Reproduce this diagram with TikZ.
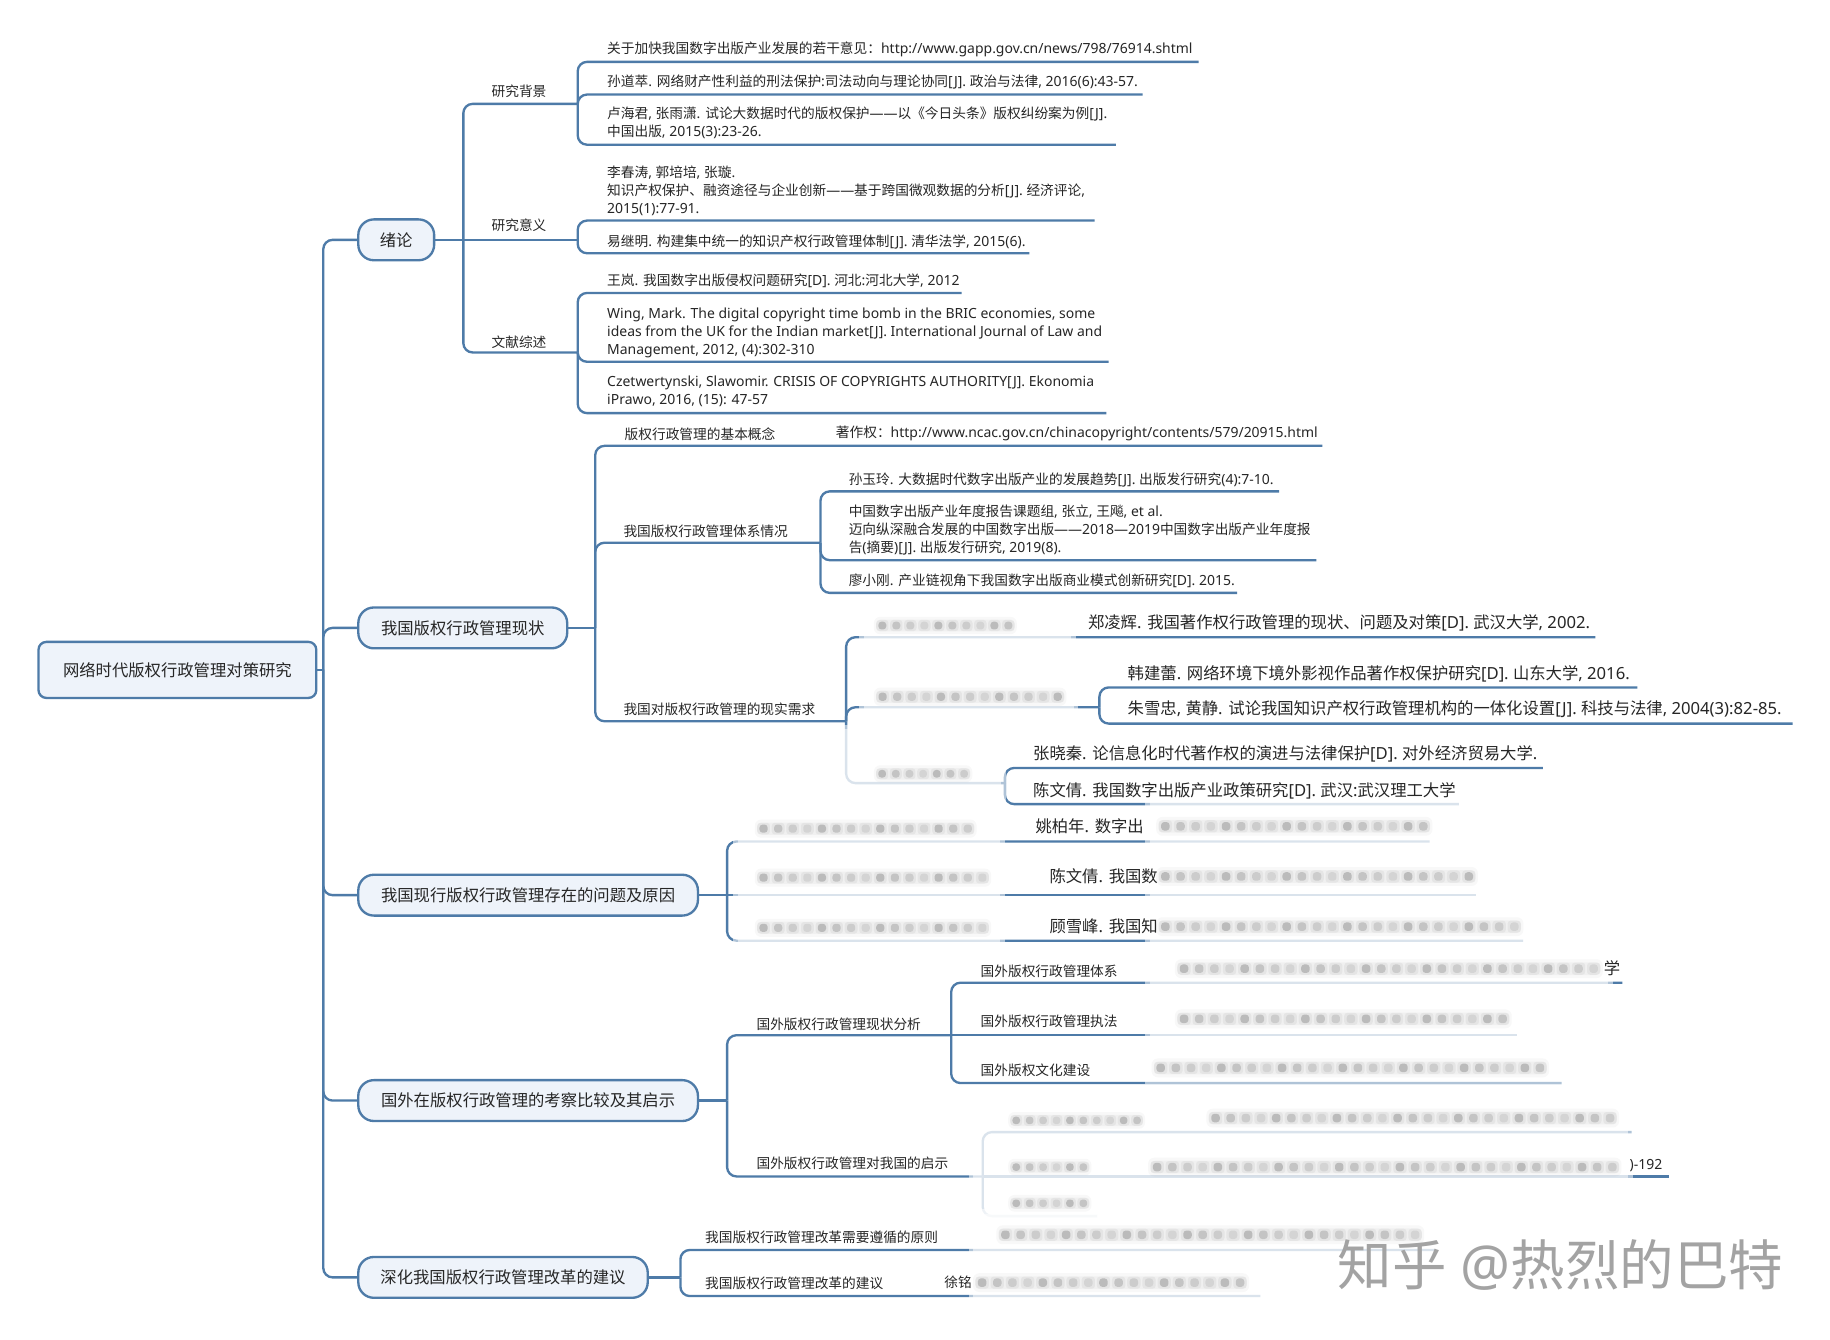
\documentclass[tikz,border=0pt]{standalone}
\usepackage{fontspec}
\setmainfont{Noto Sans}[Scale=1.02]
\newfontfamily\cjkf{Noto Sans CJK SC}
\newfontfamily\latf{Noto Sans}[Scale=1.02]
\XeTeXinterchartokenstate=1
\newXeTeXintercharclass\cjkcls
\newcount\cjkcnt
\cjkcnt="2E80
\loop\ifnum\cjkcnt<"A000 \XeTeXcharclass\cjkcnt=\cjkcls \advance\cjkcnt by 1 \repeat
\cjkcnt="FF00
\loop\ifnum\cjkcnt<"FFF0 \XeTeXcharclass\cjkcnt=\cjkcls \advance\cjkcnt by 1 \repeat
\XeTeXinterchartoks 0 \cjkcls={\cjkf}
\XeTeXinterchartoks 4095 \cjkcls={\cjkf}
\XeTeXinterchartoks \cjkcls 0={\latf}
\XeTeXinterchartoks \cjkcls 4095={\latf}
\definecolor{lc}{HTML}{4E7BA8}
\definecolor{nf}{HTML}{EEF3FA}
\definecolor{tc}{HTML}{262626}
\pgfdeclarelayer{bg}
\pgfdeclarelayer{fade}
\pgfsetlayers{bg,fade,main}
\tikzset{
  conn/.style={draw=lc, line width=1.5pt, rounded corners=6pt},
  mainbox/.style={draw=lc, line width=1.5pt, fill=nf, rounded corners=10pt, inner sep=0pt,
    minimum height=26.25pt, font=\fontsize{10.5}{12}\selectfont, text=tc},
  rootbox/.style={draw=lc, line width=1.5pt, fill=nf, rounded corners=5pt, inner sep=0pt,
    font=\fontsize{10.5}{12}\selectfont, text=tc},
  lbl/.style={anchor=west, inner sep=0pt, font=\fontsize{8.8}{10}\selectfont, text=tc},
  ref/.style={anchor=west, inner sep=0pt, align=left, font=\fontsize{8.8}{11.6}\selectfont, text=tc},
  refb/.style={anchor=west, inner sep=0pt, align=left, font=\fontsize{10.5}{12}\selectfont, text=tc},
  fadebox/.style={fill=white, opacity=.55},
}
\newcommand\smudge[4]{%
  \fill[black!45,opacity=.06,rounded corners=4pt] ({#1-0.1*#4},{#3-0.62*#4}) rectangle ({#1+(#2+1.1)*#4},{#3+0.62*#4});
  \fill[black!50,opacity=.06,rounded corners=3pt] ({#1+0.05*#4},{#3-0.42*#4}) rectangle ({#1+(#2+0.95)*#4},{#3+0.42*#4});
  \foreach \k in {0,...,#2}{%
    \pgfmathsetmacro\smop{0.10+0.05*mod(\k*7+3,4)}%
    \fill[black!60,opacity=.08,rounded corners=2pt] ({#1+\k*#4+0.06*#4},{#3-0.4*#4}) rectangle ({#1+(\k+1)*#4-0.06*#4},{#3+0.4*#4});
    \fill[black!75,opacity=\smop,rounded corners=2pt] ({#1+\k*#4+0.22*#4},{#3-0.28*#4}) rectangle ({#1+(\k+1)*#4-0.22*#4},{#3+0.28*#4});
  }}
\newcommand\fadeout[4]{%
  \fill[fadebox] (#1-4,#2-4) rectangle (#3+4,#4+4);
  \fill[fadebox] (#1,#2) rectangle (#3,#4);}
\begin{document}
\begin{tikzpicture}[x=0.75pt,y=-0.75pt]
\begin{pgfonlayer}{bg}
\fill[white] (0,0) rectangle (1568,1148);
\end{pgfonlayer}
\useasboundingbox (0,0) rectangle (1568,1148);

% ---------- main nodes ----------
\node[rootbox, minimum width=178.5pt, minimum height=36pt] (root) at (152,574) {网络时代版权行政管理对策研究};
\node[mainbox, minimum width=48.75pt] (n1) at (339.5,205.5) {绪论};
\node[mainbox, minimum width=134.25pt] (n2) at (396.5,538) {我国版权行政管理现状};
\node[mainbox, minimum width=218.25pt] (n3) at (452.5,767) {我国现行版权行政管理存在的问题及原因};
\node[mainbox, minimum width=218.25pt] (n4) at (452.5,943) {国外在版权行政管理的考察比较及其启示};
\node[mainbox, minimum width=186pt] (n5) at (431,1094.5) {深化我国版权行政管理改革的建议};

% ---------- junctions ----------
\coordinate (T) at (277,574);
\coordinate (J1) at (397,205.5);
\coordinate (K11) at (495,89);
\coordinate (K12) at (495,205.5);
\coordinate (K13) at (495,302);
\coordinate (J2) at (510,538);
\coordinate (K22) at (703,465);
\coordinate (K23) at (725,618);
\coordinate (K232) at (942,606);
\coordinate (K233) at (861,671);
\coordinate (J3) at (623,767);
\coordinate (J4) at (623,943);
\coordinate (K41) at (815,887);
\coordinate (K42) at (842,1008);
\coordinate (J5) at (583,1094.5);

% ---------- connectors ----------
\begin{pgfonlayer}{bg}
\draw[conn] (root.east) -- (T);
\foreach \n in {n1,n2,n3,n4,n5} \draw[conn] (T) |- (\n.west);
% 绪论
\draw[conn] (n1.east) -- (J1) -- (K12);
\draw[conn] (J1) |- (K11);
\draw[conn] (J1) |- (K13);
\draw[conn] (K11) |- (1027,53) coordinate (e111);
\draw[conn] (K11) |- (979,81) coordinate (e112);
\draw[conn] (K11) |- (956,124) coordinate (e113);
\draw[conn] (K12) |- (938,189) coordinate (e121);
\draw[conn] (K12) |- (882,217) coordinate (e122);
\draw[conn] (K13) |- (824,251) coordinate (e131);
\draw[conn] (K13) |- (950,310) coordinate (e132);
\draw[conn] (K13) |- (948,354) coordinate (e133);
% 现状
\draw[conn] (n2.east) -- (J2);
\draw[conn] (J2) |- (1133,382) coordinate (e21);
\draw[conn] (J2) |- (K22);
\draw[conn] (K22) |- (1096,421) coordinate (e221);
\draw[conn] (K22) |- (1128,480) coordinate (e222);
\draw[conn] (K22) |- (1060,508) coordinate (e223);
\draw[conn] (J2) |- (K23);
\draw[conn] (K23) |- (1367,546) coordinate (e231);
\draw[conn] (K23) |- (K232);
\draw[conn] (K232) |- (1403,589) coordinate (e232);
\draw[conn] (K232) |- (1536,620) coordinate (e233);
\draw[conn] (K23) |- (K233);
\draw[conn] (K233) |- (1322,658) coordinate (e234);
\draw[conn] (K233) |- (1250,689) coordinate (e235);
% 问题
\draw[conn] (n3.east) -- (J3);
\draw[conn] (J3) |- (1225,721) coordinate (e31);
\draw[conn] (J3) -- (1265,767) coordinate (e32);
\draw[conn] (J3) |- (1305,806) coordinate (e33);
% 国外
\draw[conn] (n4.east) -- (J4);
\draw[conn] (J4) |- (K41);
\draw[conn] (K41) |- (1390,842) coordinate (e411);
\draw[conn] (K41) -- (1300,887) coordinate (e412);
\draw[conn] (K41) |- (1338,928) coordinate (e413);
\draw[conn] (J4) |- (K42);
\draw[conn] (K42) |- (1398,970) coordinate (e421);
\draw[conn] (K42) -- (1430,1008) coordinate (e422);
\draw[conn] (K42) |- (940,1042) coordinate (e423);
% 深化
\draw[conn] (n5.east) -- (J5);
\draw[conn] (J5) |- (1230,1071) coordinate (e51);
\draw[conn] (J5) |- (1080,1110.5) coordinate (e52);
\end{pgfonlayer}

% ---------- blurred areas ----------
\begin{pgfonlayer}{fade}
\fadeout{740}{527}{918}{556}
\fadeout{740}{585}{920}{617}
\fadeout{716}{625}{858}{692}
\fadeout{632}{697}{857}{815}
\fadeout{985}{682}{1310}{815}
\fadeout{985}{815}{1378}{925}
\fadeout{834}{940}{1395}{1050}
\fadeout{834}{1040}{1232}{1120}
\end{pgfonlayer}

% ---------- texts: 绪论 ----------
\node[lbl] (l11) at (421,78) {研究背景};
\node[lbl] (l12) at (421,193) {研究意义};
\node[lbl] (l13) at (421,293) {文献综述};
\node[ref] (r111) at (520,42) {关于加快我国数字出版产业发展的若干意见：http://www.gapp.gov.cn/news/798/76914.shtml};
\node[ref] (r112) at (520,70) {孙道萃. 网络财产性利益的刑法保护:司法动向与理论协同[J]. 政治与法律, 2016(6):43-57.};
\node[ref] (r113) at (520,105.5) {卢海君, 张雨潇. 试论大数据时代的版权保护——以《今日头条》版权纠纷案为例[J].\\中国出版, 2015(3):23-26.};
\node[ref] (r121) at (520,163.5) {李春涛, 郭培培, 张璇.\\知识产权保护、融资途径与企业创新——基于跨国微观数据的分析[J]. 经济评论,\\2015(1):77-91.};
\node[ref] (r122) at (520,207) {易继明. 构建集中统一的知识产权行政管理体制[J]. 清华法学, 2015(6).};
\node[ref] (r131) at (520,241) {王岚. 我国数字出版侵权问题研究[D]. 河北:河北大学, 2012};
\node[ref] (r132) at (520,285) {Wing, Mark. The digital copyright time bomb in the BRIC economies, some\\ideas from the UK for the Indian market[J]. International Journal of Law and\\Management, 2012, (4):302-310};
\node[ref] (r133) at (520,335.5) {Czetwertynski, Slawomir. CRISIS OF COPYRIGHTS AUTHORITY[J]. Ekonomia\\iPrawo, 2016, (15): 47-57};

% ---------- texts: 现状 ----------
\node[lbl] (l21) at (535,372) {版权行政管理的基本概念};
\node[ref] (r211) at (716,371) {著作权：http://www.ncac.gov.cn/chinacopyright/contents/579/20915.html};
\node[lbl] (l22) at (534,455) {我国版权行政管理体系情况};
\node[ref] (r221) at (727,411) {孙玉玲. 大数据时代数字出版产业的发展趋势[J]. 出版发行研究(4):7-10.};
\node[ref] (r222) at (727,454.5) {中国数字出版产业年度报告课题组, 张立, 王飚, et al.\\迈向纵深融合发展的中国数字出版——2018—2019中国数字出版产业年度报\\告(摘要)[J]. 出版发行研究, 2019(8).};
\node[ref] (r223) at (727,498) {廖小刚. 产业链视角下我国数字出版商业模式创新研究[D]. 2015.};
\node[lbl] (l23) at (534,608) {我国对版权行政管理的现实需求};
\node[refb] (r231) at (932,534) {郑凌辉. 我国著作权行政管理的现状、问题及对策[D]. 武汉大学, 2002.};
\node[refb] (r232) at (966,577) {韩建蕾. 网络环境下境外影视作品著作权保护研究[D]. 山东大学, 2016.};
\node[refb] (r233) at (966,608) {朱雪忠, 黄静. 试论我国知识产权行政管理机构的一体化设置[J]. 科技与法律, 2004(3):82-85.};
\node[refb] (r234) at (885,646) {张晓秦. 论信息化时代著作权的演进与法律保护[D]. 对外经济贸易大学.};
\node[refb] (r235) at (885,677.5) {陈文倩. 我国数字出版产业政策研究[D]. 武汉:武汉理工大学};
\smudge{750}{9}{536}{12}
\smudge{750}{12}{597}{12.5}
\smudge{750}{6}{663}{11.7}

% ---------- texts: 问题 ----------
\node[refb] (r31) at (887,708) {姚柏年. 数字出};
\node[refb] (r32) at (899,751) {陈文倩. 我国数};
\node[refb] (r33) at (899,794) {顾雪峰. 我国知};
\smudge{648}{14}{710}{12.5}
\smudge{648}{15}{752}{12.5}
\smudge{648}{15}{795}{12.5}
\smudge{992}{17}{708}{13}
\smudge{992}{20}{751}{13}
\smudge{992}{23}{794}{13}

% ---------- texts: 国外 ----------
\node[lbl] (l41) at (648,878) {国外版权行政管理现状分析};
\node[lbl] (l411) at (840,832) {国外版权行政管理体系};
\node[lbl] (l412) at (840,875) {国外版权行政管理执法};
\node[lbl] (l413) at (840,917) {国外版权文化建设};
\node[refb] (r411) at (1374,830) {学};
\smudge{1008}{27}{830}{13}
\smudge{1008}{21}{873}{13}
\smudge{988}{25}{915}{13}
\node[lbl] (l42) at (648,997) {国外版权行政管理对我国的启示};
\node[ref] (r422) at (1396,999) {)-192};
\smudge{865}{9}{960}{11.5}
\smudge{1035}{26}{958}{13}
\smudge{865}{5}{1000}{11.5}
\smudge{985}{30}{1000}{13}
\smudge{865}{5}{1031}{11.5}

% ---------- texts: 深化 ----------
\node[lbl] (l51) at (604,1060) {我国版权行政管理改革需要遵循的原则};
\node[lbl] (l52) at (604,1100) {我国版权行政管理改革的建议};
\node[lbl] (r52) at (809,1099) {徐铭};
\smudge{855}{27}{1058}{13}
\smudge{835}{17}{1099}{13}

% ---------- watermark ----------
\node[inner sep=0pt, font=\fontsize{35}{35}\selectfont, text=black!36] (wm) at (1337,1084) {知乎 @热烈的巴特};
\end{tikzpicture}
\end{document}
